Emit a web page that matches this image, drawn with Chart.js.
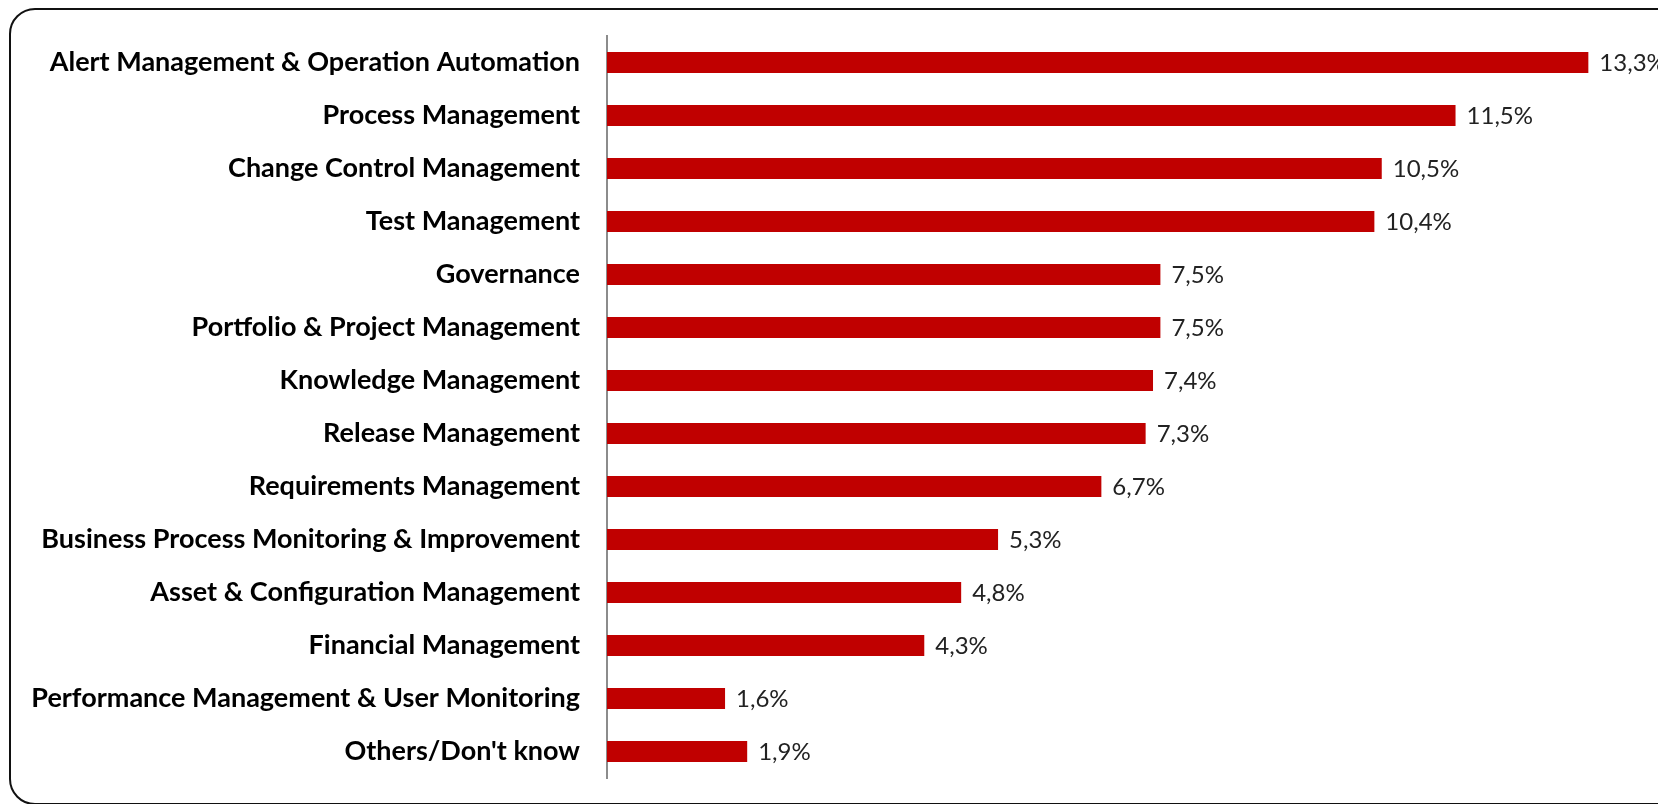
<!DOCTYPE html>
<html>
<head>
<meta charset="utf-8">
<script src="https://cdn.jsdelivr.net/npm/chart.js@4.4.0/dist/chart.umd.min.js"></script>
<style>
  html, body { margin: 0; padding: 0; background: #fff; overflow: hidden; }
  #frame {
    position: absolute; left: 9px; top: 8px; width: 1700px; height: 797px;
    border: 2px solid #111; border-radius: 26px; box-sizing: border-box;
  }
  #chart { position: absolute; left: 0; top: 0; }
</style>
</head>
<body>
<div id="frame"></div>
<canvas id="chart" width="1658" height="804"></canvas>
<script>
const categories = [
    'Alert Management & Operation Automation',
    'Process Management',
    'Change Control Management',
    'Test Management',
    'Governance',
    'Portfolio & Project Management',
    'Knowledge Management',
    'Release Management',
    'Requirements Management',
    'Business Process Monitoring & Improvement',
    'Asset & Configuration Management',
    'Financial Management',
    'Performance Management & User Monitoring',
    "Others/Don't know"
];
const shares = [13.3, 11.5, 10.5, 10.4, 7.5, 7.5, 7.4, 7.3, 6.7, 5.3, 4.8, 4.3, 1.6, 1.9];

// draws "13,3%" style labels at the end of each bar
const valueLabels = {
    id: 'valueLabels',
    afterDatasetsDraw(chart) {
        const ctx = chart.ctx;
        const meta = chart.getDatasetMeta(0);
        ctx.save();
        ctx.font = '24px Lato';
        ctx.fillStyle = '#222';
        ctx.textAlign = 'left';
        ctx.textBaseline = 'middle';
        meta.data.forEach((bar, i) => {
            const txt = shares[i].toFixed(1).replace('.', ',') + '%';
            ctx.fillText(txt, bar.x + 11, bar.y + 1);
        });
        ctx.restore();
    }
};

const chartCanvas = document.querySelector('#chart');
new Chart(chartCanvas, {
    type: 'bar',
    data: {
        labels: categories,
        datasets: [{
            data: shares,
            backgroundColor: '#C00000',
            borderWidth: 0,
            barPercentage: 0.4,
            categoryPercentage: 1
        }]
    },
    options: {
        indexAxis: 'y',
        responsive: false,
        animation: false,
        devicePixelRatio: 1,
        layout: { padding: { top: 36, bottom: 26, right: 18, left: 0 } },
        plugins: {
            legend: { display: false },
            tooltip: { enabled: false }
        },
        scales: {
            x: {
                display: false,
                min: 0,
                max: 14
            },
            y: {
                afterFit: (scale) => { scale.width = 607; },
                grid: { drawOnChartArea: false, drawTicks: true, tickLength: 27, color: 'transparent' },
                border: { display: true, color: '#8c8c8c', width: 2 },
                ticks: {
                    padding: 0,
                    color: '#000',
                    font: { family: 'Lato', size: 27, weight: 'bold' }
                }
            }
        }
    },
    plugins: [valueLabels]
});
</script>
</body>
</html>
